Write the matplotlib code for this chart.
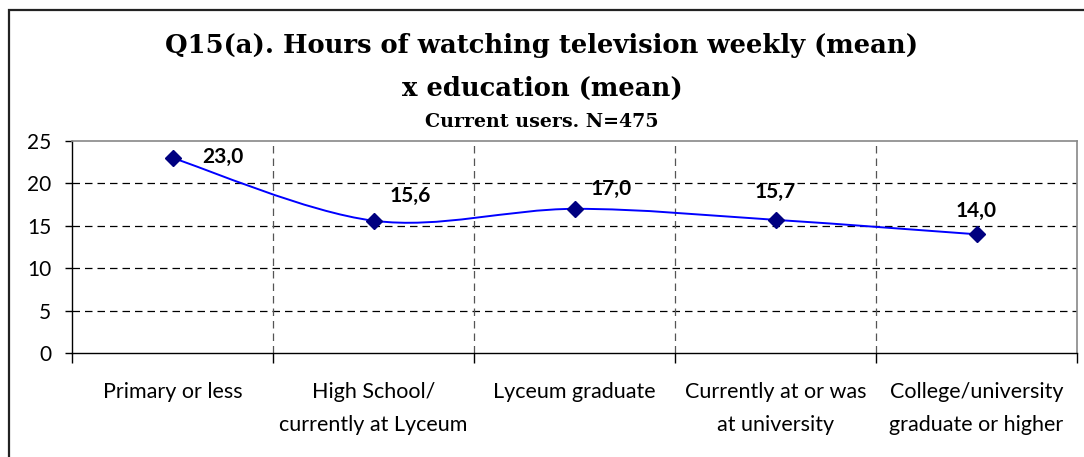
import matplotlib
matplotlib.use("Agg")
import matplotlib.pyplot as plt
from matplotlib.path import Path
from matplotlib.patches import PathPatch, Rectangle
import numpy as np

categories = ["Primary or less", "High School/\ncurrently at Lyceum", "Lyceum graduate",
              "Currently at or was\nat university", "College/university\ngraduate or higher"]
values = [23.0, 15.6, 17.0, 15.7, 14.0]
value_labels = ["23,0", "15,6", "17,0", "15,7", "14,0"]
y_ticks = [0, 5, 10, 15, 20, 25]

# label offsets in points (dx, dy) relative to each marker
label_offsets = [(36.5, 0.5), (26.5, 18), (26.5, 14.5), (0, 20), (0, 17)]

FONT = ["Lato", "DejaVu Sans"]
TITLE_FONT = ["DejaVu Serif"]

fig = plt.figure(figsize=(10.84, 4.57), dpi=100)
fig.patch.set_facecolor("white")

# outer chart frame (open to the right and bottom)
fig.patches.append(Rectangle((9 / 1084, -0.1), 1.2, 1 - 10 / 457 + 0.1,
                             transform=fig.transFigure, fill=False,
                             edgecolor="#222222", linewidth=1.6))

ax = fig.add_axes([72 / 1084, 1 - 353 / 457, (1077 - 72) / 1084, (353 - 141) / 457])
n = len(values)
x = np.arange(n)
ax.set_xlim(-0.5, n - 0.5)
ax.set_ylim(0, 25)

# smoothed connecting line (cubic Bezier through each point)
pts = np.column_stack([x, values]).astype(float)
ext = np.vstack([pts[0], pts, pts[-1]])
verts = [tuple(pts[0])]
codes = [Path.MOVETO]
for i in range(n - 1):
    p0, p1, p2, p3 = ext[i], ext[i + 1], ext[i + 2], ext[i + 3]
    c1 = p1 + (p2 - p0) / 6.0
    c2 = p2 - (p3 - p1) / 6.0
    verts += [tuple(c1), tuple(c2), tuple(p2)]
    codes += [Path.CURVE4] * 3
ax.add_patch(PathPatch(Path(verts, codes), facecolor="none", edgecolor="#0000FF",
                       linewidth=1.4, zorder=3))
ax.plot(x, values, linestyle="none", marker="D", markersize=8.5,
        color="#000080", zorder=4, clip_on=False)

for xi, v, lab, (dx, dy) in zip(x, values, value_labels, label_offsets):
    ax.annotate(lab, (xi, v), xytext=(dx, dy), textcoords="offset points",
                ha="center", va="center", fontsize=15, fontweight="bold",
                family=FONT, color="black")

# grid
for yv in y_ticks[1:-1]:
    ax.axhline(yv, color="black", linestyle=(0, (6, 4)), linewidth=0.9, zorder=1)
for xb in np.arange(0.5, n - 0.5, 1.0):
    ax.axvline(xb, color="#555555", linestyle=(0, (6, 4)), linewidth=0.9, zorder=1)

for side in ["top", "right"]:
    ax.spines[side].set_color("#888888")
    ax.spines[side].set_linewidth(1.2)
for side in ["left", "bottom"]:
    ax.spines[side].set_color("black")
    ax.spines[side].set_linewidth(1.0)

ax.set_yticks(y_ticks)
ax.set_yticklabels([str(t) for t in y_ticks], family=FONT, fontsize=15)
ax.tick_params(axis="y", length=5, width=1, direction="out", pad=10)

ax.set_xticks(np.arange(-0.5, n, 1.0))
ax.set_xticklabels([])
ax.tick_params(axis="x", length=7, width=1, direction="out")
ax.set_xticks(x, minor=True)
ax.set_xticklabels(categories, minor=True, family=FONT, fontsize=15.5, linespacing=1.78)
ax.tick_params(axis="x", which="minor", length=0, pad=21)

fig.text(0.5, 1 - 45 / 457, "Q15(a). Hours of watching television weekly (mean)",
         ha="center", va="center", fontsize=18.6, fontweight="bold", family=TITLE_FONT)
fig.text(0.5, 1 - 88 / 457, "x education (mean)",
         ha="center", va="center", fontsize=18.6, fontweight="bold", family=TITLE_FONT)
fig.text(0.5, 1 - 122 / 457, "Current users. N=475",
         ha="center", va="center", fontsize=13.7, fontweight="bold", family=TITLE_FONT)

fig.savefig("out.png", dpi=100, facecolor="white")
